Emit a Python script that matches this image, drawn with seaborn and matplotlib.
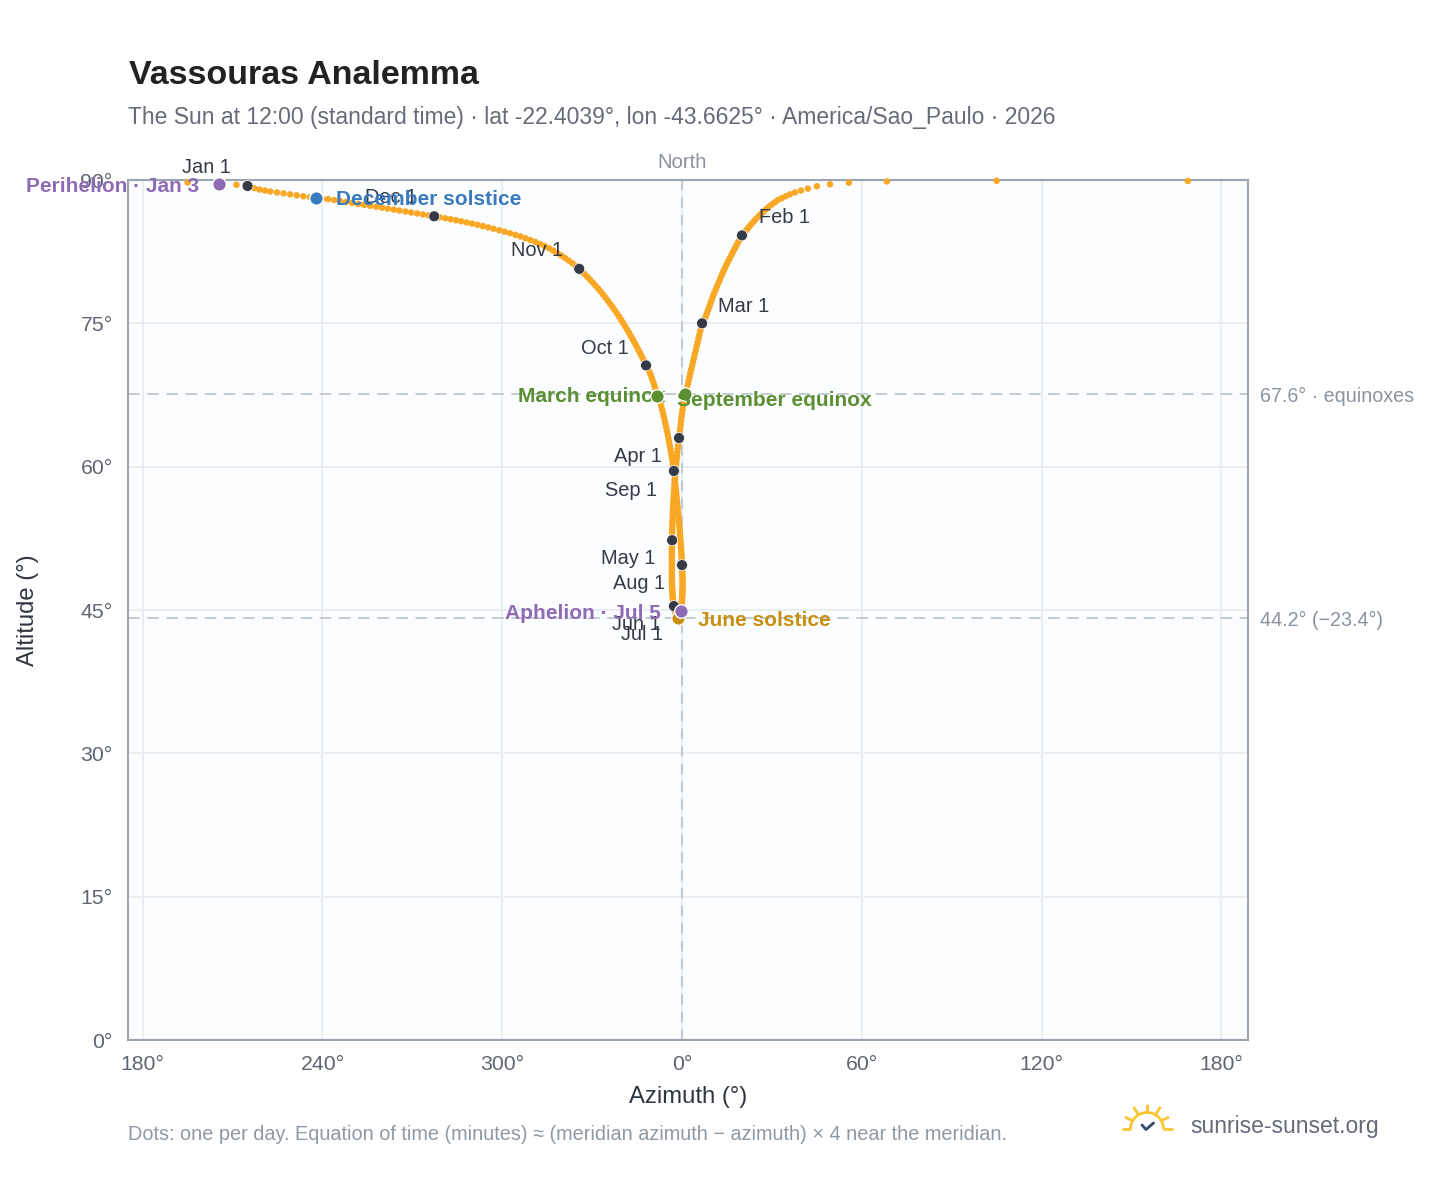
import matplotlib
matplotlib.use("Agg")
from matplotlib import pyplot as plt
from matplotlib.lines import Line2D
from matplotlib.patches import Arc
import numpy as np
import pandas as pd
import seaborn as sns

# azimuth is unwrapped around north, west is negative
jan_az = [-145, -148.7, -154.5, -165, 168.8, 105, 68.4, 55.7, 49.4, 45, 42, 39.7, 37.7, 36, 34.6, 33.3,
          32, 30.9, 29.8, 28.8, 27.9, 27, 26.2, 25.4, 24.6, 23.9, 23.2, 22.5, 21.9, 21.2, 20.6]
jan_alt = [89.38, 89.5, 89.58, 89.74, 89.9, 89.92, 89.85, 89.72, 89.55, 89.35, 89.1, 88.9, 88.7, 88.5, 88.3, 88.1,
           87.9, 87.65, 87.4, 87.15, 86.9, 86.65, 86.4, 86.15, 85.9, 85.65, 85.4, 85.15, 84.9, 84.65, 84.4]
feb_az = [20, 19.4, 18.9, 18.4, 17.9, 17.4, 16.9, 16.4, 15.9, 15.4, 14.9, 14.4, 13.9, 13.45,
          13, 12.55, 12.1, 11.65, 11.2, 10.75, 10.3, 9.9, 9.5, 9.1, 8.7, 8.3, 7.9, 7.3]
feb_alt = [84.2, 83.9, 83.6, 83.3, 83, 82.7, 82.4, 82.1, 81.8, 81.5, 81.17, 80.84, 80.51, 80.18,
           79.85, 79.52, 79.19, 78.86, 78.5, 78.15, 77.8, 77.45, 77.1, 76.75, 76.4, 76.05, 75.7, 75.35]
mar_az = [6.7, 6.4, 6.1, 5.8, 5.5, 5.2, 4.9, 4.6, 4.3, 4, 3.7, 3.4, 3.1, 2.8, 2.5, 2.2,
          1.95, 1.65, 1.3, 1, 0.8, 0.6, 0.4, 0.2, 0, -0.15, -0.3, -0.45, -0.6, -0.75, -0.9]
mar_alt = [75, 74.6, 74.2, 73.8, 73.4, 73, 72.6, 72.2, 71.8, 71.4, 71, 70.6, 70.2, 69.8, 69.4, 69,
           68.6, 68.2, 67.9, 67.6, 67.2, 66.8, 66.4, 66, 65.6, 65.2, 64.8, 64.4, 64, 63.6, 63.2]
apr_az = [-1, -1.15, -1.3, -1.42, -1.55, -1.68, -1.8, -1.92, -2.04, -2.15, -2.25, -2.35, -2.45, -2.53, -2.6,
          -2.68, -2.75, -2.82, -2.88, -2.94, -3, -3.05, -3.1, -3.14, -3.18, -3.22, -3.25, -3.28, -3.3, -3.3]
apr_alt = [63, 62.6, 62.25, 61.9, 61.5, 61.1, 60.75, 60.4, 60, 59.65, 59.3, 58.9, 58.55, 58.2, 57.8,
           57.45, 57.1, 56.75, 56.4, 56.05, 55.7, 55.35, 55, 54.65, 54.3, 54, 53.65, 53.3, 52.95, 52.6]
may_az = [-3.3, -3.32, -3.34, -3.36, -3.38, -3.4, -3.4, -3.4, -3.4, -3.4, -3.4, -3.4, -3.4, -3.4, -3.4, -3.38,
          -3.36, -3.34, -3.32, -3.28, -3.24, -3.2, -3.16, -3.12, -3.08, -3.04, -3, -2.95, -2.9, -2.85, -2.8]
may_alt = [52.3, 52, 51.7, 51.4, 51.1, 50.8, 50.5, 50.2, 49.9, 49.65, 49.38, 49.1, 48.84, 48.58, 48.33, 48.1,
           47.87, 47.65, 47.43, 47.22, 47.02, 46.83, 46.65, 46.48, 46.31, 46.16, 46.02, 45.88, 45.75, 45.63, 45.52]
jun_az = [-2.7, -2.64, -2.58, -2.5, -2.44, -2.38, -2.3, -2.24, -2.18, -2.1, -2.04, -1.98, -1.9, -1.83, -1.76,
          -1.7, -1.62, -1.55, -1.48, -1.4, -1.3, -1.25, -1.18, -1.1, -1.04, -0.98, -0.9, -0.84, -0.78, -0.72]
jun_alt = [45.41, 45.3, 45.2, 45.1, 45, 44.92, 44.84, 44.76, 44.69, 44.62, 44.55, 44.49, 44.44, 44.39, 44.34,
           44.3, 44.27, 44.24, 44.22, 44.2, 44.2, 44.2, 44.21, 44.23, 44.25, 44.28, 44.32, 44.36, 44.41, 44.46]
jul_az = [-0.67, -0.6, -0.54, -0.48, -0.3, -0.38, -0.33, -0.28, -0.23, -0.18, -0.14, -0.1, -0.06, -0.02, 0.02, 0.05,
          0.08, 0.11, 0.14, 0.16, 0.18, 0.2, 0.2, 0.2, 0.2, 0.18, 0.16, 0.13, 0.1, 0.06, 0.03]
jul_alt = [44.52, 44.59, 44.66, 44.75, 44.9, 44.95, 45.06, 45.17, 45.29, 45.42, 45.55, 45.69, 45.84, 45.99, 46.15, 46.31,
           46.48, 46.66, 46.84, 47.03, 47.22, 47.42, 47.63, 47.84, 48.05, 48.27, 48.5, 48.73, 48.97, 49.21, 49.45]
aug_az = [0, -0.04, -0.08, -0.13, -0.18, -0.24, -0.3, -0.36, -0.43, -0.5, -0.57, -0.65, -0.73, -0.81, -0.9, -0.99,
          -1.08, -1.18, -1.28, -1.38, -1.49, -1.6, -1.71, -1.82, -1.93, -2.04, -2.15, -2.26, -2.37, -2.48, -2.6]
aug_alt = [49.7, 49.96, 50.22, 50.49, 50.77, 51.05, 51.34, 51.63, 51.93, 52.23, 52.54, 52.85, 53.17, 53.49, 53.82, 54.15,
           54.48, 54.82, 55.16, 55.5, 55.85, 56.2, 56.55, 56.9, 57.26, 57.62, 57.98, 58.34, 58.7, 59.07, 59.4]
sep_az = [-2.7, -2.88, -3.07, -3.26, -3.46, -3.66, -3.87, -4.08, -4.3, -4.52, -4.75, -4.99, -5.24, -5.5, -5.77,
          -6.05, -6.34, -6.64, -6.95, -7.27, -7.6, -8.2, -8.5, -8.87, -9.24, -9.62, -10.02, -10.44, -10.88, -11.4]
sep_alt = [59.55, 59.92, 60.3, 60.68, 61.06, 61.44, 61.82, 62.2, 62.58, 62.96, 63.33, 63.71, 64.09, 64.47, 64.84,
           65.22, 65.6, 65.97, 66.34, 66.71, 67.08, 67.35, 67.8, 68.15, 68.51, 68.87, 69.22, 69.58, 69.94, 70.28]
oct_az = [-12, -12.5, -13.03, -13.57, -14.12, -14.68, -15.25, -15.84, -16.44, -17.05, -17.67, -18.3, -18.95, -19.62, -20.3, -21,
          -21.71, -22.43, -23.17, -23.93, -24.71, -25.51, -26.33, -27.17, -28.03, -28.91, -29.81, -30.73, -31.67, -32.63, -33.5]
oct_alt = [70.6, 70.94, 71.28, 71.62, 71.96, 72.3, 72.64, 72.98, 73.32, 73.66, 74, 74.34, 74.68, 75.02, 75.36, 75.7,
           76.03, 76.36, 76.69, 77.02, 77.35, 77.68, 78.01, 78.33, 78.65, 78.96, 79.27, 79.58, 79.88, 80.18, 80.45]
nov_az = [-34.3, -35.4, -36.55, -37.75, -39, -40.3, -41.65, -43, -44.4, -45.85, -47.35, -48.95, -50.6, -52.25, -53.9,
          -55.6, -57.4, -59.2, -61, -62.9, -64.7, -66.5, -68.3, -70.1, -71.9, -73.7, -75.5, -77.3, -79, -80.8]
nov_alt = [80.7, 81.0, 81.28, 81.56, 81.83, 82.1, 82.36, 82.61, 82.85, 83.09, 83.31, 83.52, 83.72, 83.91, 84.09,
           84.26, 84.43, 84.59, 84.74, 84.89, 85.04, 85.18, 85.31, 85.44, 85.56, 85.68, 85.79, 85.9, 86, 86.1]
dec_az = [-82.7, -84.6, -86.5, -88.4, -90.4, -92.3, -94.3, -96.2, -98.2, -100.1, -102.1, -104.1, -106.1, -108.1, -110.1, -112.1,
          -114.1, -116.1, -118.1, -120.1, -122, -124.2, -126.4, -128.6, -130.8, -133, -135.2, -137.4, -139.2, -141, -142.8]
dec_alt = [86.2, 86.3, 86.4, 86.5, 86.6, 86.7, 86.8, 86.9, 87, 87.1, 87.2, 87.3, 87.4, 87.5, 87.6, 87.7,
           87.8, 87.9, 88, 88.05, 88.12, 88.2, 88.3, 88.4, 88.5, 88.6, 88.7, 88.8, 88.9, 89, 89.15]

month_names = ["Jan", "Feb", "Mar", "Apr", "May", "Jun", "Jul", "Aug", "Sep", "Oct", "Nov", "Dec"]
month_az = [jan_az, feb_az, mar_az, apr_az, may_az, jun_az, jul_az, aug_az, sep_az, oct_az, nov_az, dec_az]
month_alt = [jan_alt, feb_alt, mar_alt, apr_alt, may_alt, jun_alt, jul_alt, aug_alt, sep_alt, oct_alt, nov_alt, dec_alt]

# label offset side per month, in pixels from the dot
month_offset = {"Jan": (-17, 18), "Feb": (17, 18), "Mar": (16, 17), "Apr": (-17, -19), "May": (-17, -18),
                "Jun": (-13, -18), "Jul": (-17, -20), "Aug": (-17, -18), "Sep": (-17, -20), "Oct": (-17, 17),
                "Nov": (-16, 18), "Dec": (-17, 19)}

# name, month index, day index, colour, side, y offset in pixels
events = [
    ("Perihelion · Jan 3", 0, 2, "#8e6bb5", "right", -2),
    ("March equinox", 2, 19, "#5b8f32", "right", -2),
    ("June solstice", 5, 20, "#c98f10", "left", -3),
    ("Aphelion · Jul 5", 6, 4, "#8e6bb5", "right", -3),
    ("September equinox", 8, 21, "#5b8f32", "left", -4),
    ("December solstice", 11, 20, "#3a7abf", "left", -2),
]

x_ticks = [-180, -120, -60, 0, 60, 120, 180]
x_labels = ["180°", "240°", "300°", "0°", "60°", "120°", "180°"]
y_ticks = [0, 15, 30, 45, 60, 75, 90]
ref_lines = [(67.6, "67.6° · equinoxes"), (44.2, "44.2° (−23.4°)")]

W, H = 1448, 1188

sns.set_theme(style="whitegrid")
plt.rcParams["font.family"] = ["Liberation Sans", "DejaVu Sans"]

fig = plt.figure(figsize=(W / 100, H / 100), dpi=100, facecolor="white")
ax = fig.add_axes([128 / W, 1 - 1040 / H, 1120 / W, 860 / H])
ax.set_facecolor("#fbfdff")

days = pd.DataFrame({"az": np.concatenate(month_az), "alt": np.concatenate(month_alt)})
sns.scatterplot(data=days, x="az", y="alt", ax=ax, s=22, color="#f9a825", linewidth=0, clip_on=False, zorder=4, snap=False)
# one size per dot, otherwise agg rounds marker positions to whole pixels
ax.collections[-1].set_sizes(np.full(len(days), 22.0))

ax.set_xlim(-184.9, 188.9)
ax.set_ylim(0, 90)
ax.set_xticks(x_ticks, x_labels)
ax.set_yticks(y_ticks, [f"{v}°" for v in y_ticks])
ax.grid(True, color="#e9eef3", linewidth=1.5)
ax.set_axisbelow(True)
ax.tick_params(length=0, labelsize=15.3, labelcolor="#5f6672", pad=11)
ax.tick_params(axis="x", pad=11)
for spine in ax.spines.values():
    spine.set_color("#9aa5b1")
    spine.set_linewidth(1.5)
    spine.set_zorder(3)

ax.set_xlabel("Azimuth (°)", fontsize=17.2, color="#2f3640")
ax.xaxis.set_label_coords(0.5, -0.0535)
ax.set_ylabel("Altitude (°)", fontsize=17.2, color="#2f3640")
ax.yaxis.set_label_coords((39 - 128) / 1120, 0.5)

ax.axvline(0, color="#c0cad3", linewidth=1.5, dashes=(5, 3.5), zorder=2)
for alt, text in ref_lines:
    ax.axhline(alt, color="#b8c4ce", linewidth=1.2, dashes=(7, 4.5), zorder=2)
    ax.annotate(text, xy=(1, alt), xycoords=("axes fraction", "data"), xytext=(8.6, -2), textcoords="offset points",
                ha="left", va="center", fontsize=14.2, color="#8a949e", clip_on=False)
ax.annotate("North", xy=(0, 1), xycoords=("data", "axes fraction"), xytext=(0, 12.8), textcoords="offset points",
            ha="center", va="center", fontsize=14.6, color="#8a949e")

# first of each month
firsts = pd.DataFrame({"az": [m[0] for m in month_az], "alt": [m[0] for m in month_alt]})
sns.scatterplot(data=firsts, x="az", y="alt", ax=ax, s=62, color="#343a46", edgecolor="white", linewidth=0.5,
                clip_on=False, zorder=5)
ax.collections[-1].set_sizes(np.full(len(firsts), 62.0))
for name, az, alt in zip(month_names, firsts["az"], firsts["alt"]):
    dx, dy = month_offset[name]
    ax.annotate(f"{name} 1", xy=(az, alt), xytext=(dx * 0.72, dy * 0.72), textcoords="offset points",
                ha="left" if dx > 0 else "right", va="center", fontsize=14.4, color="#343a46", zorder=6)

z = 7
for label, m, d, colour, side, dy in events:
    sns.scatterplot(x=[month_az[m][d]], y=[month_alt[m][d]], ax=ax, s=95, color=colour, edgecolor="white",
                    linewidth=1, clip_on=False, zorder=z)
    dx = 20 if side == "left" else -20
    ax.annotate(label, xy=(month_az[m][d], month_alt[m][d]), xytext=(dx * 0.72, dy * 0.72), textcoords="offset points",
                ha=side, va="center", fontsize=15.05, fontweight="bold", color=colour, zorder=z + 1)
    z += 2

ax.set_xlim(-184.9, 188.9)
ax.set_ylim(0, 90)


def fx(px):
    return px / W


def fy(py):
    return 1 - py / H


fig.text(fx(129), fy(84), "Vassouras Analemma", fontsize=24.5, fontweight="bold", color="#222222", ha="left", va="baseline")
fig.text(fx(128), fy(124), "The Sun at 12:00 (standard time) · lat -22.4039°, lon -43.6625° · America/Sao_Paulo · 2026",
         fontsize=16.5, color="#666b78", ha="left", va="baseline")
fig.text(fx(128), fy(1140), "Dots: one per day. Equation of time (minutes) ≈ (meridian azimuth − azimuth) × 4 near the meridian.",
         fontsize=14.35, color="#8f99a3", ha="left", va="baseline")
fig.text(fx(1190), fy(1133), "sunrise-sunset.org", fontsize=16.5, color="#666b78", ha="left", va="baseline")

# logo
sun = "#fbc531"
arc_w = 33 / W
arc_h = 33 / H
fig.add_artist(Arc((fx(1147), fy(1129)), arc_w, arc_h, theta1=0, theta2=180, color=sun, linewidth=2,
                   transform=fig.transFigure))
logo_lines = [
    ([1122, 1131], [1129, 1129], sun),
    ([1163, 1173], [1129, 1129], sun),
    ([1147, 1147], [1104, 1112], sun),
    ([1133.5, 1138], [1107, 1114], sun),
    ([1160.5, 1156], [1107, 1114], sun),
    ([1125, 1133], [1117, 1121], sun),
    ([1169, 1161], [1117, 1121], sun),
]
for xs, ys, colour in logo_lines:
    fig.add_artist(Line2D([fx(v) for v in xs], [fy(v) for v in ys], color=colour, linewidth=2,
                          transform=fig.transFigure, solid_capstyle="butt"))
fig.add_artist(Line2D([fx(1142), fx(1146), fx(1153.5)], [fy(1125), fy(1129.5), fy(1123)], color="#2c4a6e", linewidth=2,
                      transform=fig.transFigure))

fig.savefig("out.png", dpi=100, facecolor="white")
